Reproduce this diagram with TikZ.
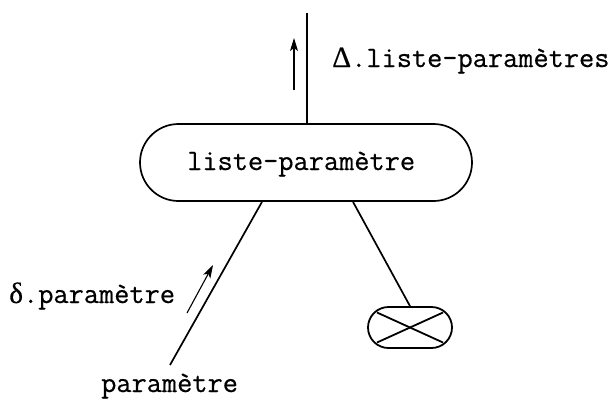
\documentclass[tikz,border=0pt]{standalone}
\usepackage{fontspec}
\newfontfamily\tw{Latin Modern Mono}[FakeBold=0.5]
\newfontfamily\grk{Liberation Serif}[FakeBold=0.3]
\usetikzlibrary{shapes.misc,arrows.meta,calc}
\tikzset{
  lbl/.style={font=\fontsize{29.5}{31}\selectfont\tw, inner sep=0pt},
  bigbox/.style={draw, line width=1.7pt, rounded rectangle, minimum width=332pt, minimum height=77pt, inner sep=0pt},
  smallbox/.style={draw, line width=1.8pt, rounded rectangle, minimum width=84pt, minimum height=41pt, inner sep=0pt},
  link/.style={line width=1.7pt},
  flow/.style={line width=1.1pt, -{Stealth[length=13pt,width=8pt,inset=3pt]}}
}
\begin{document}
\begin{tikzpicture}[x=1pt,y=-1pt]
\useasboundingbox (0,0) rectangle (612,402);
\node[bigbox] (L) at (306,162.5) {};
\node[lbl, anchor=base west] (Lt) at (187,170) {liste-paramètre};
\node[smallbox] (S) at (410,327.5) {};
\draw[line width=1.8pt] ($(S.center)+(-33,-15)$) -- ($(S.center)+(33,15)$);
\draw[line width=1.8pt] ($(S.center)+(-33,15)$) -- ($(S.center)+(33,-15)$);
\coordinate (T) at (307,13);
\coordinate (P) at (170,365);
\draw[link] (L.north -| T) -- (T);
\draw[link] ($(L.south)+(-44,0)$) -- (P);
\draw[link] ($(L.south)+(47,0)$) -- (S.north);
\coordinate (a1) at (294,90);
\coordinate (a2) at (294,38);
\draw[flow] (a1) -- (a2);
\coordinate (b1) at (187,313);
\coordinate (b2) at (213,265);
\draw[flow] (b1) -- (b2);
\node[lbl, anchor=base west] (D) at (332,67) {{\grk Δ}.liste-paramètres};
\node[lbl, anchor=base west] (d) at (9,303) {{\grk δ}.paramètre};
\node[lbl, anchor=base west] (p) at (101,392) {paramètre};
\end{tikzpicture}
\end{document}
